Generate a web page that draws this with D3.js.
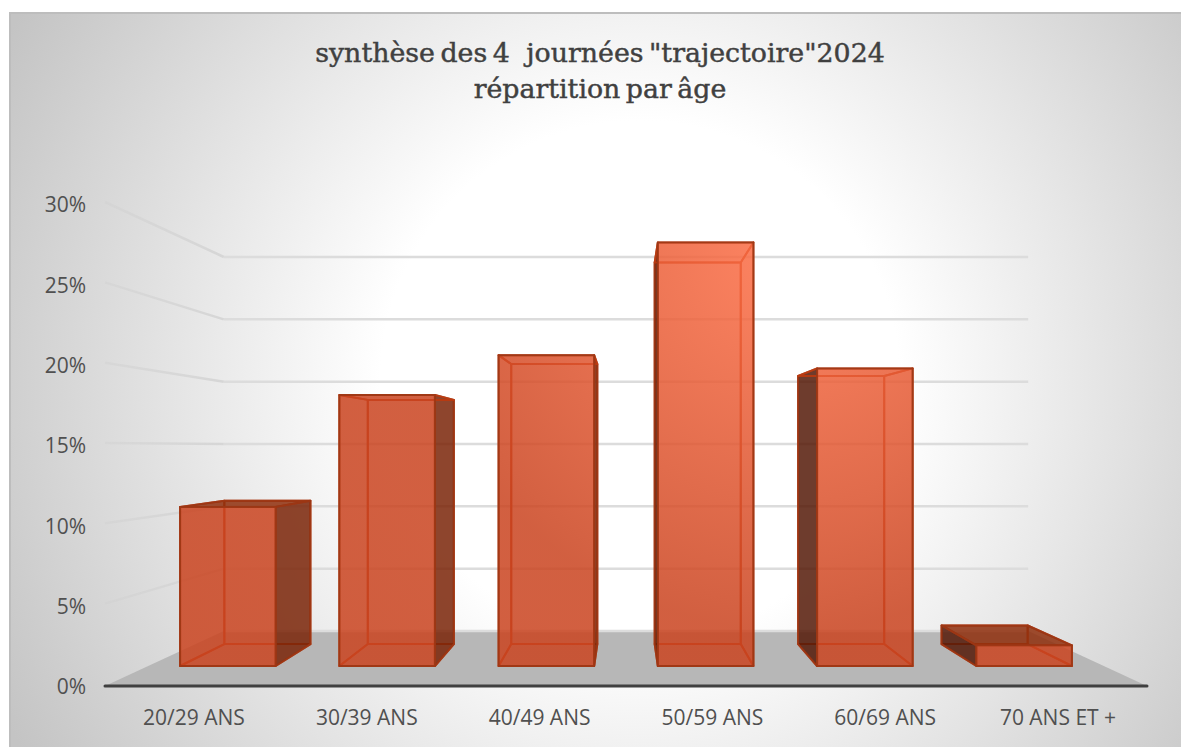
<!DOCTYPE html>
<html lang="fr">
<head>
<meta charset="utf-8"/>
<title>Répartition par âge</title>
<script src="https://d3js.org/d3.v7.min.js"></script>
<style>
  html, body { margin: 0; padding: 0; background: #fff; }
  svg { display: block; }
</style>
</head>
<body>
<div id="chart"></div>
<script>
// data
var categories = ["20/29 ANS", "30/39 ANS", "40/49 ANS", "50/59 ANS", "60/69 ANS", "70 ANS ET +"];
var values = [10.8, 18.4, 21.1, 28.75, 20.2, 1.4];
var yTicks = [0, 5, 10, 15, 20, 25, 30];
var titleLines = ['synthèse des 4\u00a0\u00a0\u00a0journées "trajectoire"2024', "répartition par âge"];

var w = 1181;
var h = 747;

// simple perspective: every point goes towards a vanishing point
var vpX = 626, vpY = 445;
var depthFront = 1, depthBack = 0.772;      // walls / floor
var barFront = 0.917, barBack = 0.826;      // bars sit inside the floor

var x = d3.scaleBand().domain(categories).range([-521, 521]).paddingInner(0.4).paddingOuter(0.2);
var y = d3.scaleLinear().domain([0, 30]).range([241, -241]);
var yBack = d3.scaleLinear().domain([0, 30]).range([631, 257]);  // back wall is a touch taller

function project(px, py, s) { return [vpX + px * s, vpY + py * s]; }
var line = d3.line();
function face(x0, x1, y0, y1, s0, s1) {
  return line([project(x0, y0, s0), project(x1, y0, s0), project(x1, y1, s1), project(x0, y1, s1)]) + "Z";
}

var svg = d3.select("#chart").append("svg").attr("width", w).attr("height", h);
var defs = svg.append("defs");

var bg = defs.append("radialGradient").attr("id", "bg").attr("gradientUnits", "userSpaceOnUse")
  .attr("cx", 640).attr("cy", 380).attr("r", 720);
bg.append("stop").attr("offset", "0.36").attr("stop-color", "#ffffff");
bg.append("stop").attr("offset", "1").attr("stop-color", "#c4c4c4");

var barFill = defs.append("radialGradient").attr("id", "barFill").attr("gradientUnits", "userSpaceOnUse")
  .attr("cx", 790).attr("cy", 250).attr("r", 380);
barFill.append("stop").attr("offset", "0").attr("stop-color", "#ff7048");
barFill.append("stop").attr("offset", "1").attr("stop-color", "#ca4420");

var wallLine = defs.append("linearGradient").attr("id", "wallLine").attr("gradientUnits", "userSpaceOnUse")
  .attr("x1", 105).attr("x2", 224).attr("y1", 0).attr("y2", 0);
wallLine.append("stop").attr("offset", "0").attr("stop-color", "#cfcfcf").attr("stop-opacity", 0.4);
wallLine.append("stop").attr("offset", "1").attr("stop-color", "#d6d6d6");

// background panel, only top and left edges show a border
svg.append("rect").attr("x", 9).attr("y", 12).attr("width", w - 9).attr("height", h - 12)
  .attr("fill", "url(#bg)");
svg.append("path").attr("d", line([[10, h], [10, 13], [w, 13]]))
  .attr("fill", "none").attr("stroke", "#bdbdbd").attr("stroke-width", 2);

// floor
svg.append("path")
  .attr("d", face(-521, 521, y(0), y(0), depthFront, depthBack))
  .attr("fill", "#b7b7b7");

// gridlines on back wall and left wall
var grid = svg.append("g").attr("fill", "none").attr("stroke-width", 2.5);
grid.selectAll("path.back").data(yTicks).enter().append("path").attr("class", "back")
  .attr("stroke", "#dcdcdc")
  .attr("d", function(d) { return line([[project(-521, 0, depthBack)[0], yBack(d)], [project(521, 0, depthBack)[0], yBack(d)]]); });
grid.selectAll("path.side").data(yTicks.slice(1)).enter().append("path").attr("class", "side")
  .attr("stroke", "url(#wallLine)")
  .attr("d", function(d) {
    var p = project(-521, y(d), depthFront);
    return line([[p[0], p[1] - 2], [project(-521, 0, depthBack)[0], yBack(d)]]);
  });

// axis line
svg.append("path")
  .attr("d", line([project(-521, y(0), depthFront), project(521, y(0), depthFront)]))
  .attr("stroke", "#404040").attr("stroke-width", 3).attr("stroke-linecap", "round").attr("fill", "none");

// bars
var bars = svg.selectAll("g.bar")
  .data(categories.map(function(c, i) { return { name: c, value: values[i] }; }))
  .enter().append("g").attr("class", "bar");

var innerFill = "#c83d15", edge = "#bc3c12", outer = "#9c3614";

bars.each(function(d) {
  var g = d3.select(this);
  var l = x(d.name), r = l + x.bandwidth();
  var top = y(d.value), bot = y(0);

  function addFace(path, fill, opacity, stroke) {
    g.append("path").attr("d", path).attr("fill", fill).attr("fill-opacity", opacity)
      .attr("stroke", stroke).attr("stroke-width", 2).attr("stroke-opacity", 0.9).attr("stroke-linejoin", "round");
  }
  var leftFace = line([project(l, bot, barFront), project(l, bot, barBack), project(l, top, barBack), project(l, top, barFront)]) + "Z";
  var rightFace = line([project(r, bot, barFront), project(r, bot, barBack), project(r, top, barBack), project(r, top, barFront)]) + "Z";

  // back to front; a face seen from outside is dark, from inside nearly clear
  addFace(face(l, r, bot, bot, barFront, barBack), innerFill, 0, edge);
  addFace(line([project(l, bot, barBack), project(r, bot, barBack), project(r, top, barBack), project(l, top, barBack)]) + "Z", innerFill, 0.02, edge);
  addFace(leftFace, l > 0 ? "#551a08" : innerFill, l > 0 ? 0.85 : 0.02, l > 0 ? outer : edge);
  addFace(rightFace, r < 0 ? "#7a2408" : innerFill, r < 0 ? 0.85 : 0.02, r < 0 ? outer : edge);
  addFace(face(l, r, top, top, barFront, barBack), top > 0 ? "#8f2f0d" : innerFill, top > 0 ? 0.85 : 0.02, top > 0 ? outer : edge);
  // front
  addFace(line([project(l, bot, barFront), project(r, bot, barFront), project(r, top, barFront), project(l, top, barFront)]) + "Z", "url(#barFill)", 0.85, outer);
});

// value labels
var labelFont = "'Open Sans', sans-serif";
svg.append("g").selectAll("text").data(yTicks).enter().append("text")
  .attr("x", 86).attr("y", function(d) { return project(0, y(d), depthFront)[1] + 1; })
  .attr("dy", "0.35em").attr("text-anchor", "end")
  .attr("font-family", labelFont).attr("font-size", 21).attr("fill", "#505050")
  .text(function(d) { return d + "%"; });

svg.append("g").selectAll("text").data(categories).enter().append("text")
  .attr("x", function(d) { return project((x(d) + x.bandwidth() / 2) * 0.995, 0, depthFront)[0]; })
  .attr("y", 718).attr("dy", "0.35em").attr("text-anchor", "middle")
  .attr("font-family", labelFont).attr("font-size", 21).attr("fill", "#505050")
  .text(function(d) { return d; });

// title
svg.append("g").selectAll("text").data(titleLines).enter().append("text")
  .attr("x", 600).attr("y", function(d, i) { return 62 + i * 36; })
  .attr("text-anchor", "middle")
  .attr("font-family", "'DejaVu Serif', serif").attr("font-size", 26.8).attr("word-spacing", -3)
  .attr("fill", "#404040").attr("stroke", "#404040").attr("stroke-width", 0.45)
  .text(function(d) { return d; });
</script>
</body>
</html>
